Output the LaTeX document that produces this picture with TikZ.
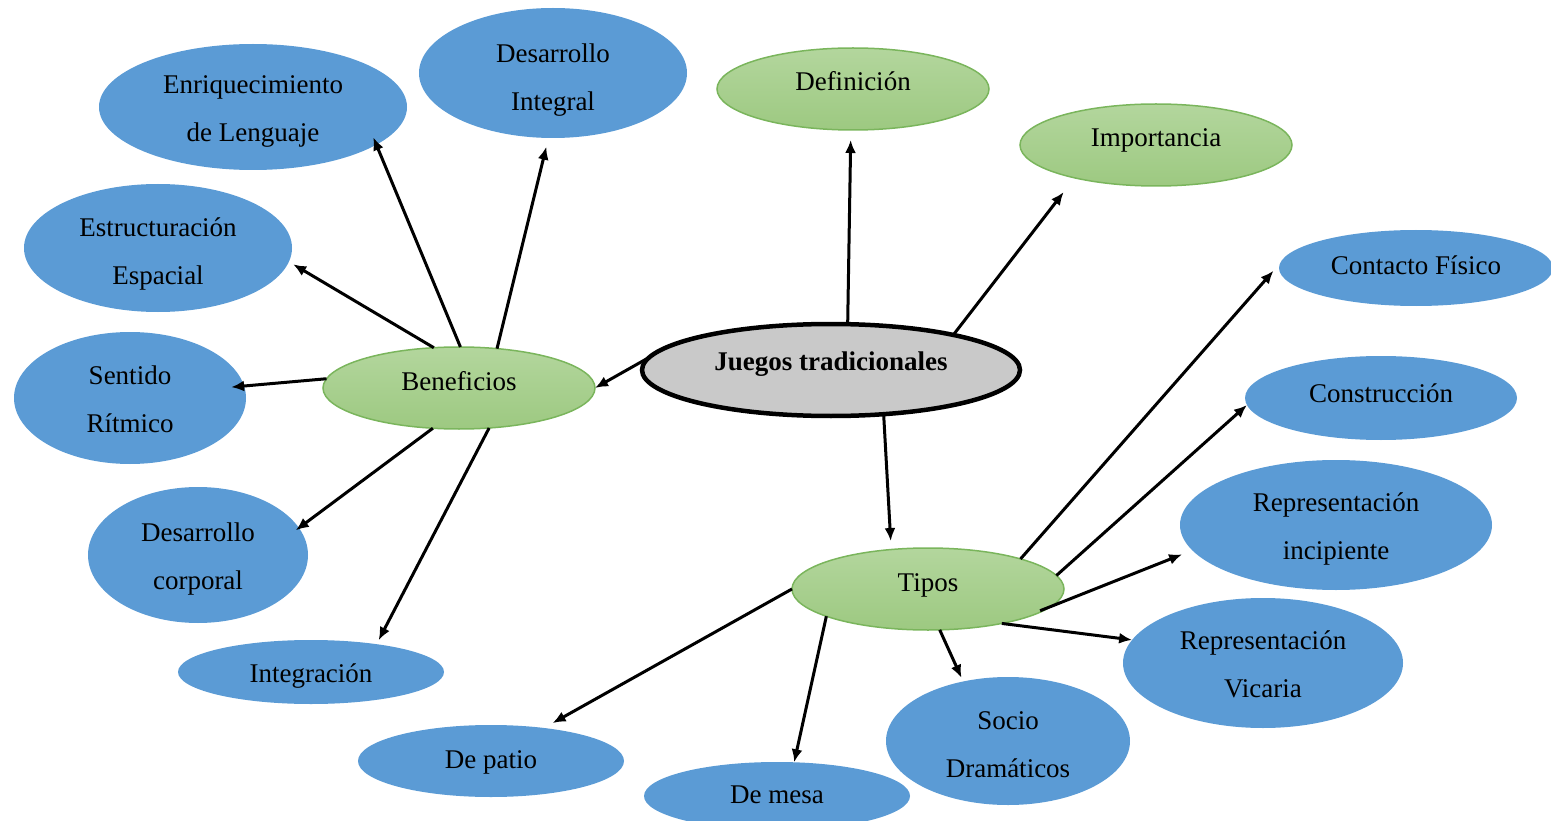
\documentclass[tikz,border=0pt]{standalone}
\usepackage{fontspec}
\setmainfont{Liberation Serif}
\usetikzlibrary{shapes.geometric,arrows.meta}
\definecolor{blueN}{HTML}{5B9BD5}
\definecolor{greenT}{HTML}{B3D69D}
\definecolor{greenB}{HTML}{9DC981}
\definecolor{greenD}{HTML}{7AB55C}
\definecolor{grayC}{HTML}{C9C9C9}
\tikzset{
  base/.style={ellipse, inner sep=0pt, outer sep=0pt, align=center,
    font=\fontsize{27}{48}\selectfont, text=black},
  bluebox/.style={base, fill=blueN},
  greenbox/.style={base, draw=greenD, line width=1.5pt, top color=greenT, bottom color=greenB,
    text height=12pt, text depth=8pt},
  mainbox/.style={base, draw=black, line width=4.5pt, fill=grayC,
    font=\bfseries\fontsize{27}{48}\selectfont, text height=10pt, text depth=10pt},
  tl/.style 2 args={text height=#1pt, text depth=#2pt},
  arr/.style={-{Latex[length=13pt,width=11pt]}, line width=3pt},
}
\begin{document}
\begin{tikzpicture}[x=1pt,y=-1pt]
\useasboundingbox (0,0) rectangle (1551,821);
% nodes
\node[mainbox, minimum width=378pt, minimum height=92pt] (cen) at (831,370) {Juegos tradicionales};
\node[greenbox, minimum width=272pt, minimum height=82pt] (def) at (853,89) {Definición};
\node[greenbox, minimum width=272pt, minimum height=82pt] (imp) at (1156,145) {Importancia};
\node[greenbox, minimum width=272pt, minimum height=82pt] (ben) at (459,388) {Beneficios};
\node[greenbox, minimum width=272pt, minimum height=82pt] (tip) at (928,589) {Tipos};
\node[bluebox, tl={70}{0}, minimum width=308pt, minimum height=126pt] (enr) at (253,107) {Enriquecimiento\\de Lenguaje};
\node[bluebox, tl={76}{0}, minimum width=268pt, minimum height=130pt] (dint) at (553,73) {Desarrollo\\Integral};
\node[bluebox, tl={73}{0}, minimum width=268pt, minimum height=128pt] (est) at (158,248) {Estructuración\\Espacial};
\node[bluebox, tl={69}{0}, minimum width=232pt, minimum height=132pt] (sen) at (130,398) {Sentido\\Rítmico};
\node[bluebox, tl={68}{0}, minimum width=220pt, minimum height=136pt] (dcor) at (198,555) {Desarrollo\\corporal};
\node[bluebox, tl={22}{2}, minimum width=266pt, minimum height=64pt] (int) at (311,672) {Integración};
\node[bluebox, tl={17}{3}, minimum width=274pt, minimum height=76pt] (con) at (1416,268) {Contacto Físico};
\node[bluebox, tl={14}{6}, minimum width=272pt, minimum height=84pt] (cons) at (1381,398) {Construcción};
\node[bluebox, tl={69}{0}, minimum width=312pt, minimum height=130pt] (ri) at (1336,525) {Representación\\incipiente};
\node[bluebox, tl={69}{0}, minimum width=280pt, minimum height=130pt] (rv) at (1263,663) {Representación\\Vicaria};
\node[bluebox, tl={73}{0}, minimum width=244pt, minimum height=128pt] (soc) at (1008,741) {Socio\\Dramáticos};
\node[bluebox, tl={15}{1}, minimum width=266pt, minimum height=68pt] (mesa) at (777,796) {De mesa};
\node[bluebox, tl={15}{1}, minimum width=266pt, minimum height=72pt] (pat) at (491,761) {De patio};
% connectors
\draw[arr, shorten >=10pt] (cen.70) -- (def.-93);
\draw[arr, shorten >=18pt] (cen.16) -- (imp.202);
\draw[arr] (cen.176) -- (ben.east);
\draw[arr, shorten >=8.5pt] (cen.-40) -- (tip.133);
\draw[arr, shorten >=-8pt] (ben.88) -- (enr.-17);
\draw[arr, shorten >=9pt] (ben.46) -- (dint.-94);
\draw[arr, shorten >=5pt] (ben.122) -- (est.-6);
\draw[arr, shorten >=-13pt] (ben.176) -- (sen.6);
\draw[arr, shorten >=-4pt] (ben.237) -- (dcor.15);
\draw[arr, shorten >=4.5pt] (ben.-53) -- (int.23);
\draw[arr, shorten >=10pt] (tip.18) -- (con.178);
\draw[arr] (tip.6) -- (cons.183);
\draw[arr, shorten <=-12pt, shorten >=11pt] (tip.-8) -- (ri.190);
\draw[arr] (tip.-25) -- (rv.170);
\draw[arr, shorten >=4pt] (tip.-74) -- (soc.127);
\draw[arr] (tip.195) -- (mesa.63);
\draw[arr, shorten >=10pt] (tip.west) -- (pat.32);
\end{tikzpicture}
\end{document}
